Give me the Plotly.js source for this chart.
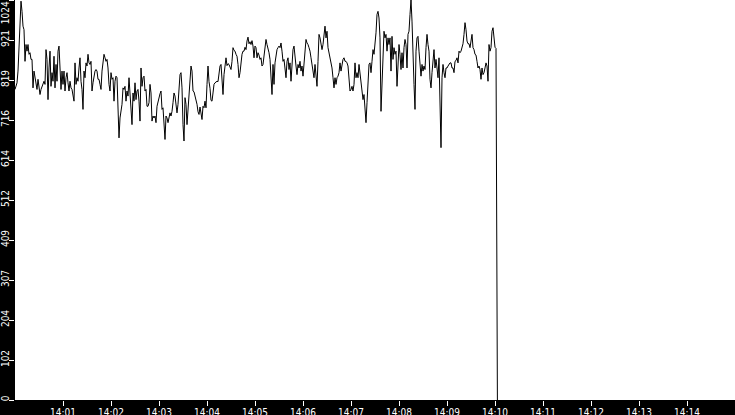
<!DOCTYPE html>
<html>
<head>
<meta charset="utf-8">
<script src="https://cdn.plot.ly/plotly-3.0.1.min.js"></script>
<style>
  html, body { margin: 0; padding: 0; background: #000; }
  #chart { width: 735px; height: 415px; }
</style>
</head>
<body>
<div id="chart"></div>
<script>
// samples every 1.25 s starting 14:00:00
var startMs = Date.UTC(2024, 0, 1, 14, 0, 0);
var stepMs = 1250;
var levels = [
  // 14:00:00 - 14:01:45
  795, 803, 812, 842, 897, 978, 1021, 995, 957, 948,
  867, 910, 893, 910, 885, 889, 872, 872, 799, 842,
  825, 816, 795, 821, 799, 782, 795, 803, 812, 816,
  808, 897, 872, 769, 850, 893, 803, 838, 816, 880,
  799, 859, 816, 893, 906, 825, 795, 842, 808, 842,
  791, 825, 838, 812, 791, 816, 799, 795, 782, 765,
  863, 808, 825, 816, 850, 876, 816, 795, 744, 842,
  825, 863, 855, 885, 863, 859, 867, 791, 812, 829,
  842, 846, 842, 821,
  // 14:01:45 - 14:03:25
  821, 808, 795, 842, 867, 885, 876, 867, 872, 850,
  808, 791, 838, 821, 825, 765, 816, 829, 825, 757,
  671, 722, 739, 757, 799, 795, 803, 765, 791, 778,
  825, 782, 722, 705, 786, 765, 812, 769, 791, 795,
  765, 714, 850, 803, 825, 829, 791, 795, 752, 752,
  761, 808, 786, 714, 727, 722, 727, 710, 752, 765,
  774, 784, 791, 744, 748, 697, 667, 727, 722, 710,
  727, 735, 727, 739, 761, 786, 778, 752, 735, 757,
  799,
  // 14:03:26 - 14:05:06
  833, 838, 799, 705, 663, 774, 757, 705, 739, 782,
  829, 855, 842, 791, 789, 780, 771, 757, 738, 731,
  750, 727, 718, 752, 748, 765, 748, 808, 855, 815,
  798, 767, 765, 786, 808, 812, 815, 816, 815, 833,
  855, 859, 816, 782, 833, 863, 876, 856, 861, 859,
  849, 846, 867, 902, 895, 893, 885, 880, 859, 825,
  838, 872, 885, 893, 893, 903, 897, 919, 929, 912,
  917, 910, 920, 906, 876, 906, 902, 876, 889, 883,
  872,
  // 14:05:07 - 14:06:47
  876, 855, 859, 880, 893, 923, 910, 902, 889, 872,
  829, 782, 859, 808, 863, 885, 897, 902, 906, 902,
  914, 893, 867, 872, 842, 825, 867, 876, 846, 863,
  816, 859, 897, 906, 872, 855, 833, 859, 850, 867,
  842, 855, 829, 859, 885, 923, 914, 910, 902, 893,
  876, 855, 833, 825, 859, 838, 803, 867, 936, 927,
  914, 897, 910, 931, 957, 927, 944, 902, 889, 880,
  863, 850, 825, 799, 825, 808, 825, 829, 838, 863,
  842,
  // 14:06:48 - 14:08:28
  859, 872, 876, 867, 867, 863, 855, 816, 791, 795,
  803, 791, 808, 863, 825, 838, 825, 859, 838, 816,
  782, 769, 782, 748, 710, 761, 825, 859, 863, 838,
  867, 897, 885, 910, 940, 987, 995, 978, 927, 739,
  825, 910, 944, 927, 936, 893, 927, 910, 927, 842,
  931, 872, 902, 885, 893, 803, 872, 910, 885, 846,
  889, 850, 902, 923, 910, 850, 936, 944, 987, 1024,
  970, 910, 808, 744, 893, 927, 931, 893, 850, 829,
  859,
  // 14:08:29 - 14:10:01
  842, 855, 846, 902, 936, 910, 893, 821, 799, 838,
  885, 897, 850, 872, 850, 825, 876, 765, 646, 825,
  859, 838, 825, 850, 850, 855, 859, 863, 863, 850,
  850, 838, 867, 869, 876, 863, 893, 889, 893, 902,
  912, 936, 966, 948, 919, 912, 912, 902, 919, 936,
  902, 897, 885, 883, 867, 850, 855, 846, 821, 850,
  833, 838, 850, 863, 855, 816, 910, 893, 902, 944,
  953, 919, 903, 900
];
// the signal falls away just after 14:10
var dropSeconds = [602, 603];
var dropLevels = [438, 0];

var yTickVals = [0, 102.4, 204.8, 307.2, 409.6, 512, 614.4, 716.8, 819.2, 921.6, 1024];
var yTickText = ['0', '102', '204', '307', '409', '512', '614', '716', '819', '921',
                 '1024\u00a0\u00a0\u00a0\u00a0\u00a0\u00a0\u00a0\u00a0\u00a0\u00a0'];
var xTickMinutes = [1, 2, 3, 4, 5, 6, 7, 8, 9, 10, 11, 12, 13, 14];
var xTickText = ['14:01', '14:02', '14:03', '14:04', '14:05', '14:06', '14:07',
                 '14:08', '14:09', '14:10', '14:11', '14:12', '14:13', '14:14'];

var xs = levels.map(function (v, i) { return startMs + i * stepMs; });
var ys = levels.slice();
for (var i = 0; i < dropSeconds.length; i++) {
    xs.push(startMs + dropSeconds[i] * 1000);
    ys.push(dropLevels[i]);
}

var trace = {
    x: xs,
    y: ys,
    type: 'scatter',
    mode: 'lines',
    line: { color: '#000', width: 1 },
    hoverinfo: 'skip'
};

var tickFont = { family: 'DejaVu Sans Condensed, DejaVu Sans, sans-serif', size: 10, color: '#fff' };

var layout = {
    width: 735,
    height: 415,
    margin: { l: 15, r: 0, t: 0, b: 15, pad: 0 },
    paper_bgcolor: '#000',
    plot_bgcolor: '#fff',
    showlegend: false,
    xaxis: {
        type: 'date',
        range: [startMs, startMs + 15 * 60000],
        tickvals: xTickMinutes.map(function (m) { return startMs + m * 60000; }),
        ticktext: xTickText,
        ticks: 'outside',
        ticklen: 5,
        tickwidth: 1,
        tickcolor: '#fff',
        tickfont: tickFont,
        ticklabelstandoff: -2,
        ticklabeloverflow: 'allow',
        showgrid: false,
        zeroline: false,
        showline: false,
        automargin: false,
        fixedrange: true
    },
    yaxis: {
        range: [0, 1024],
        tickvals: yTickVals,
        ticktext: yTickText,
        tickangle: -90,
        ticks: 'outside',
        ticklen: 5,
        tickwidth: 1,
        tickcolor: '#fff',
        tickfont: tickFont,
        ticklabelstandoff: -4,
        ticklabeloverflow: 'allow',
        showgrid: false,
        zeroline: false,
        showline: false,
        automargin: false,
        fixedrange: true
    }
};

Plotly.newPlot('chart', [trace], layout, { staticPlot: true, displayModeBar: false });
</script>
</body>
</html>
